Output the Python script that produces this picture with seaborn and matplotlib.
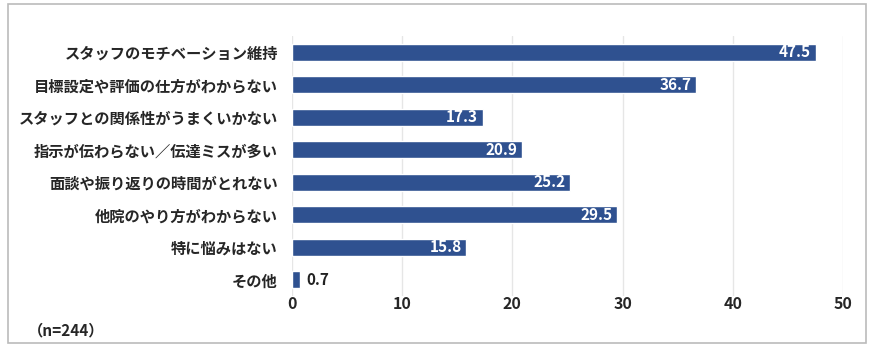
import pandas as pd
import seaborn as sns
from matplotlib import pyplot as plt
from matplotlib.patches import Rectangle

categories = [
    'スタッフのモチベーション維持',
    '目標設定や評価の仕方がわからない',
    'スタッフとの関係性がうまくいかない',
    '指示が伝わらない／伝達ミスが多い',
    '面談や振り返りの時間がとれない',
    '他院のやり方がわからない',
    '特に悩みはない',
    'その他',
]
values = [47.5, 36.7, 17.3, 20.9, 25.2, 29.5, 15.8, 0.7]
x_ticks = [0, 10, 20, 30, 40, 50]

df = pd.DataFrame({'item': categories, 'pct': values})

sns.set_style('white')
plt.rcParams['font.family'] = ['Noto Sans CJK JP', 'DejaVu Sans']

fig = plt.figure(figsize=(8.71, 3.55), dpi=100)
ax = fig.add_axes([0.335, 0.166, 0.633, 0.733])

bar_color = '#2F5190'
sns.barplot(data=df, x='pct', y='item', color=bar_color, width=0.52,
            saturation=1, ax=ax, zorder=3)

ax.set_xlim(0, 50)
ax.set_xticks(x_ticks)
ax.set_xticklabels([str(t) for t in x_ticks], fontsize=11.5, fontweight='bold')
ax.tick_params(axis='y', labelsize=11, length=0, pad=10)
ax.tick_params(axis='x', length=0, pad=0)
for lbl in ax.get_yticklabels():
    lbl.set_fontweight('bold')
ax.set_xlabel('')
ax.set_ylabel('')
ax.grid(axis='x', color='#e6e6e6', linewidth=1, zorder=0)
for s in ax.spines.values():
    s.set_visible(False)

# value labels
for i, v in enumerate(values):
    if v > 5:
        ax.text(v - 0.4, i, f'{v}', ha='right', va='center', color='white',
                fontsize=11, fontweight='bold', zorder=4)
    else:
        ax.text(v + 0.6, i, f'{v}', ha='left', va='center', color='#222222',
                fontsize=11, fontweight='bold', zorder=4)

fig.text(28 / 871, 1 - 330 / 355, '（n=244）', fontsize=11, fontweight='bold',
         va='center', ha='left')

# frame around the figure
fig.patches.append(Rectangle((8 / 871, 1 - 343 / 355), 858 / 871, 339 / 355,
                             transform=fig.transFigure, fill=False,
                             edgecolor='#bbbbbb', linewidth=1.2))

fig.savefig('out.png', dpi=100)
